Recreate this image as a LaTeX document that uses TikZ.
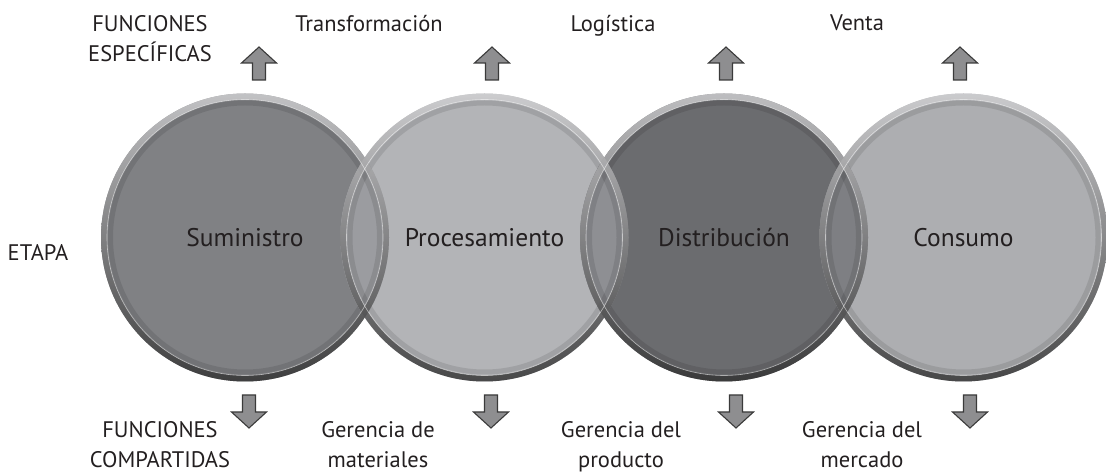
\documentclass[tikz,border=0pt]{standalone}
\usepackage{fontspec}
\setmainfont{PT Sans}
\definecolor{tinta}{HTML}{231F20}
\definecolor{suministro}{HTML}{808184}
\definecolor{procesamiento}{HTML}{B3B4B7}
\definecolor{distribucion}{HTML}{6B6C6F}
\definecolor{consumo}{HTML}{ADAEB1}
\definecolor{lenteA}{HTML}{9B9CA0}
\definecolor{lenteB}{HTML}{8E8F93}
\definecolor{lenteC}{HTML}{7E7F83}
\definecolor{bordesup}{HTML}{D2D2D4}
\definecolor{bordeinf}{HTML}{2E2E2E}
\definecolor{flechagris}{HTML}{8E8E90}
\definecolor{flechalinea}{HTML}{3A3A3A}

\begin{document}
\begin{tikzpicture}[x=1pt, y=1pt,
        etapa/.style={circle, minimum size=288, inner sep=0, text=tinta, font=\fontsize{25.5}{30}\selectfont},
        rotulo/.style={align=center, inner sep=0, text=tinta, font=\fontsize{22.5}{30}\selectfont},
        borde/.style={top color=bordesup, bottom color=bordeinf, even odd rule, opacity=.8},
        brillo/.style={white, opacity=.55, line width=.6},
        sombra/.style={black, opacity=.10, line width=5},
        flecha/.pic={\draw[fill=flechagris, draw=flechalinea, line width=1.1]
            (-6.5,0) -- (-6.5,17) -- (-17.5,17) -- (0,33) -- (17.5,17) -- (6.5,17) -- (6.5,0) -- cycle;}]

    \useasboundingbox (0,0) rectangle (1106,474);

    \node[etapa, fill=suministro]    (sum) at (245,236.5)   {Suministro};
    \node[etapa, fill=procesamiento] (pro) at (484.5,236.5) {Procesamiento};
    \node[etapa, fill=distribucion]  (dis) at (724,236.5)   {Distribución};
    \node[etapa, fill=consumo]       (con) at (963.5,236.5) {Consumo};

    \begin{scope}
        \clip (sum.center) circle (144);
        \fill[lenteA] (pro.center) circle (144);
    \end{scope}
    \begin{scope}
        \clip (pro.center) circle (144);
        \fill[lenteB] (dis.center) circle (144);
    \end{scope}
    \begin{scope}
        \clip (dis.center) circle (144);
        \fill[lenteC] (con.center) circle (144);
    \end{scope}

    \draw[sombra] (sum.center) circle (134.5);
    \draw[sombra] (pro.center) circle (134.5);
    \draw[sombra] (dis.center) circle (134.5);
    \draw[sombra] (con.center) circle (134.5);
    \shade[borde] (sum.center) circle (144) circle (138);
    \shade[borde] (pro.center) circle (144) circle (138);
    \shade[borde] (dis.center) circle (144) circle (138);
    \shade[borde] (con.center) circle (144) circle (138);
    \draw[brillo] (sum.center) circle (138);
    \draw[brillo] (pro.center) circle (138);
    \draw[brillo] (dis.center) circle (138);
    \draw[brillo] (con.center) circle (138);

    \pic at (259,394) {flecha};
    \pic at (492,394) {flecha};
    \pic at (726,394) {flecha};
    \pic at (960,394) {flecha};
    \pic[rotate=180] at (249,79) {flecha};
    \pic[rotate=180] at (491,79) {flecha};
    \pic[rotate=180] at (736,79) {flecha};
    \pic[rotate=180] at (970,79) {flecha};

    \node[rotulo, anchor=north] (especificas) at (150,459) {FUNCIONES\\ESPECÍFICAS};
    \node[rotulo, anchor=north] (transformacion) at (369,459) {Transformación};
    \node[rotulo, anchor=north] (logistica) at (613,459) {Logística};
    \node[rotulo, anchor=north] (venta) at (857,459) {Venta};
    \node[rotulo] (etapas) at (38,221) {ETAPA};
    \node[rotulo, anchor=north] (compartidas) at (160,53) {FUNCIONES\\COMPARTIDAS};
    \node[rotulo, anchor=north] (materiales) at (378,53) {Gerencia de\\materiales};
    \node[rotulo, anchor=north] (producto) at (621,53) {Gerencia del\\producto};
    \node[rotulo, anchor=north] (mercado) at (862,53) {Gerencia del\\mercado};
\end{tikzpicture}
\end{document}
